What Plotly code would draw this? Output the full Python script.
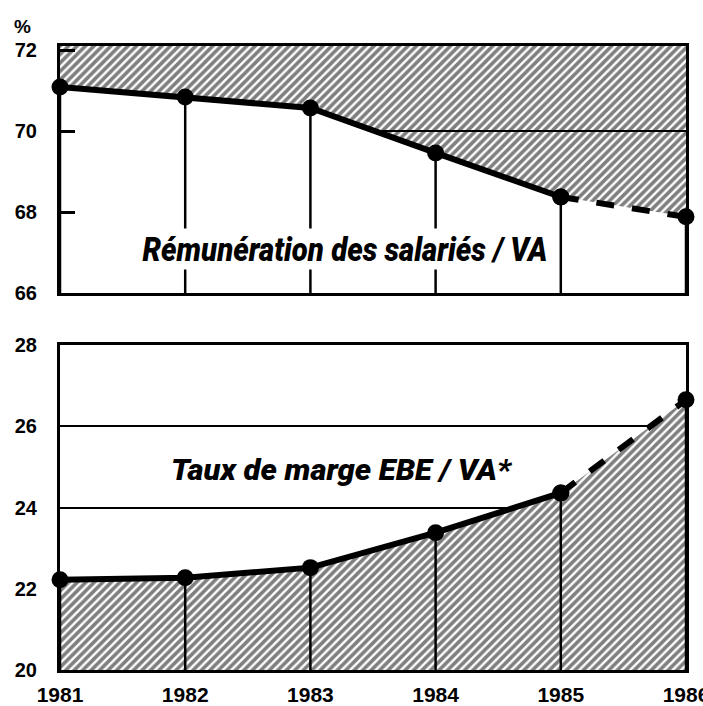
import plotly.graph_objects as go

# ---- data ----
years = [1981, 1982, 1983, 1984, 1985, 1986]
remuneration_va = [71.09, 70.84, 70.57, 69.46, 68.37, 67.88]   # Rémunération des salariés / VA (%)
taux_marge = [22.22, 22.27, 22.52, 23.38, 24.36, 26.65]         # Taux de marge EBE / VA (%)
n_solid = 5  # 1981-1985 solid, 1985-1986 dashed (estimate)

top_ticks = [66, 68, 70, 72]
top_range = [66, 72.1]
top_grid = [70]
bot_ticks = [20, 22, 24, 26, 28]
bot_range = [20, 28]
year_labels = ["1981", "1982", "1983", "1984", "1985", "1986"]
label_top = "Rémunération des salariés / VA"
label_bot = "Taux de marge EBE / VA*"

BLACK = "black"
hatch = dict(shape="/", size=6, solidity=0.6, fgcolor=BLACK, bgcolor="white")
LW = 6
MS = 17

fig = go.Figure()

# ---------- top panel ----------
ceiling = [top_range[1]] * len(years)
fig.add_trace(go.Scatter(x=years, y=ceiling, mode="lines", line=dict(width=0),
                         xaxis="x", yaxis="y", hoverinfo="skip", showlegend=False))
fig.add_trace(go.Scatter(x=years, y=remuneration_va, mode="lines", line=dict(width=0),
                         fill="tonexty", fillcolor="rgba(0,0,0,0)", fillpattern=hatch,
                         xaxis="x", yaxis="y", showlegend=False))
for g in top_grid:
    fig.add_trace(go.Scatter(x=[years[0], years[-1]], y=[g, g], mode="lines",
                             line=dict(color=BLACK, width=2),
                             xaxis="x", yaxis="y", showlegend=False, hoverinfo="skip"))
fig.add_trace(go.Scatter(x=years, y=remuneration_va, mode="lines", line=dict(width=0),
                         fill="tozeroy", fillcolor="white",
                         xaxis="x", yaxis="y", showlegend=False, hoverinfo="skip"))
vx, vy = [], []
for xv, yv in zip(years, remuneration_va):
    vx += [xv, xv, None]
    vy += [top_range[0], yv, None]
fig.add_trace(go.Scatter(x=vx, y=vy, mode="lines", line=dict(color=BLACK, width=2.5),
                         xaxis="x", yaxis="y", showlegend=False, hoverinfo="skip"))
fig.add_trace(go.Scatter(x=years[:n_solid], y=remuneration_va[:n_solid], mode="lines+markers",
                         line=dict(color=BLACK, width=LW), marker=dict(size=MS, color=BLACK),
                         cliponaxis=False, xaxis="x", yaxis="y", showlegend=False))
fig.add_trace(go.Scatter(x=years[n_solid - 1:], y=remuneration_va[n_solid - 1:], mode="lines+markers",
                         line=dict(color=BLACK, width=LW, dash="dash"), marker=dict(size=MS, color=BLACK),
                         cliponaxis=False, xaxis="x", yaxis="y", showlegend=False))

# ---------- bottom panel ----------
fig.add_trace(go.Scatter(x=years, y=taux_marge, mode="lines", line=dict(width=0),
                         fill="tozeroy", fillcolor="rgba(0,0,0,0)", fillpattern=hatch,
                         xaxis="x2", yaxis="y2", showlegend=False))
vx, vy = [], []
for xv, yv in zip(years, taux_marge):
    vx += [xv, xv, None]
    vy += [bot_range[0], yv, None]
fig.add_trace(go.Scatter(x=vx, y=vy, mode="lines", line=dict(color=BLACK, width=2.5),
                         xaxis="x2", yaxis="y2", showlegend=False, hoverinfo="skip"))
fig.add_trace(go.Scatter(x=years[:n_solid], y=taux_marge[:n_solid], mode="lines+markers",
                         line=dict(color=BLACK, width=LW), marker=dict(size=MS, color=BLACK),
                         cliponaxis=False, xaxis="x2", yaxis="y2", showlegend=False))
fig.add_trace(go.Scatter(x=years[n_solid - 1:], y=taux_marge[n_solid - 1:], mode="lines+markers",
                         line=dict(color=BLACK, width=LW, dash="dash"), marker=dict(size=MS, color=BLACK),
                         cliponaxis=False, xaxis="x2", yaxis="y2", showlegend=False))

tickfont = dict(family="Liberation Sans, Arial, sans-serif", size=20, color=BLACK, weight="bold")
axis_common = dict(showline=True, linecolor=BLACK, linewidth=3, mirror=True, zeroline=False,
                   automargin=False)

fig.update_layout(
    width=703, height=706,
    margin=dict(l=60, r=17, t=46, b=36),
    paper_bgcolor="white", plot_bgcolor="white",
    showlegend=False,
    xaxis=dict(domain=[0, 1], range=[years[0], years[-1]], anchor="y", showticklabels=False,
               showgrid=False, ticks="", **axis_common),
    yaxis=dict(domain=[0.6042, 1], range=top_range, tickvals=top_ticks, ticktext=[str(t) for t in top_ticks],
               ticks="inside", ticklen=15, tickwidth=2.5, tickcolor=BLACK, showgrid=False,
               layer="above traces",
               tickfont=tickfont, ticklabelstandoff=16, **axis_common),
    xaxis2=dict(domain=[0, 1], range=[years[0], years[-1]], anchor="y2", tickvals=years,
                ticktext=year_labels, ticks="", showgrid=False, tickfont=dict(tickfont, size=21),
                ticklabelstandoff=4, ticklabeloverflow="allow", **axis_common),
    yaxis2=dict(domain=[0, 0.5208], range=bot_range, tickvals=bot_ticks, ticktext=[str(t) for t in bot_ticks],
                ticks="", showgrid=True, gridcolor=BLACK, gridwidth=2, tickfont=tickfont,
                ticklabelstandoff=16, anchor="x2", **axis_common),
)

lab_font = dict(family="Roboto, Liberation Sans, sans-serif", size=34,
                color=BLACK, weight=900, style="italic")
fig.add_annotation(text=label_top, xref="x domain", yref="y domain",
                   x=0.456, y=0.178, showarrow=False, font=lab_font, bgcolor="white",
                   width=408, borderpad=0, xanchor="center", yanchor="middle")
fig.add_annotation(text=label_bot, xref="x2 domain", yref="y2 domain",
                   x=0.450, y=0.615, showarrow=False, font=dict(lab_font, size=29), bgcolor="white",
                   width=342, borderpad=0, xanchor="center", yanchor="middle")
fig.add_annotation(text="%", xref="paper", yref="paper", x=-0.06, y=1.0, yshift=20,
                   showarrow=False, font=dict(tickfont, size=19), xanchor="center", yanchor="middle")

post = """
document.body.style.margin = '0';
function squeeze() {
  var want = {};
  want[%s] = 405;
  want[%s] = 340;
  document.querySelectorAll('text.annotation-text').forEach(function (t) {
    var w = want[t.textContent];
    if (w) { t.setAttribute('textLength', w); t.setAttribute('lengthAdjust', 'spacingAndGlyphs'); }
  });
}
squeeze();
setTimeout(squeeze, 50);
""" % (repr(label_top), repr(label_bot))

fig.write_html("out.html", post_script=post, config={"displayModeBar": False})
